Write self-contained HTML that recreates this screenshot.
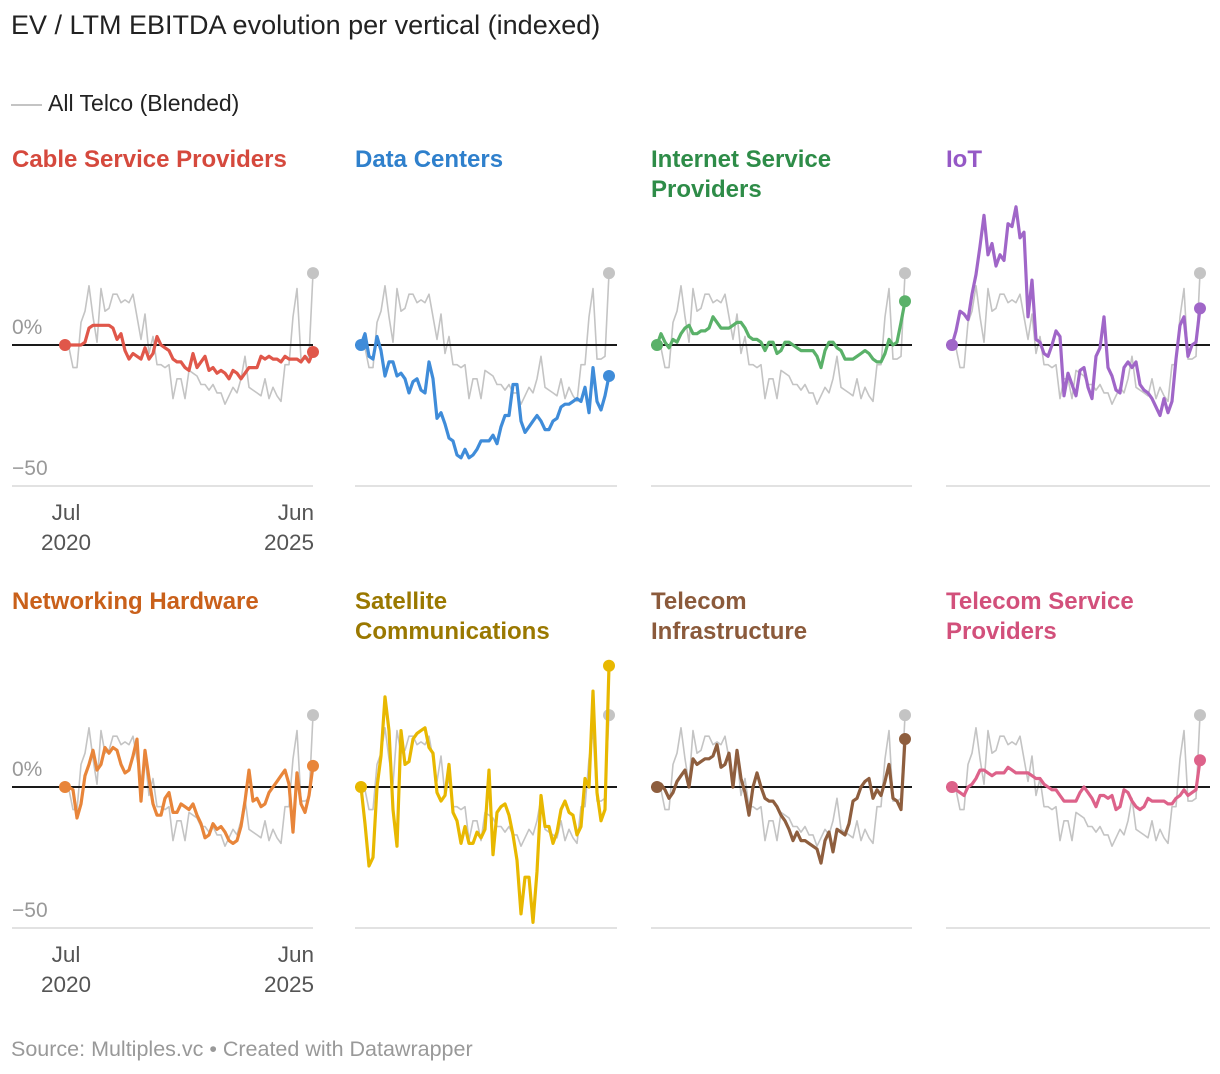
<!DOCTYPE html>
<html><head><meta charset="utf-8">
<style>
html,body{margin:0;padding:0;background:#fff;}
body{width:1220px;height:1074px;position:relative;overflow:hidden;font-family:"Liberation Sans",sans-serif;}
.t{position:absolute;white-space:nowrap;}
</style></head>
<body>
<div class="t" style="left:11px;top:10px;font-size:27px;color:#222;">EV / LTM EBITDA evolution per vertical (indexed)</div>
<div class="t" style="left:11px;top:90px;font-size:23px;color:#222;"><span style="display:inline-block;width:31px;height:2px;background:#c4c4c4;vertical-align:middle;margin-right:6px;"></span>All Telco (Blended)</div>
<svg id="chart" width="1220" height="1074" style="position:absolute;left:0;top:0;" xmlns="http://www.w3.org/2000/svg"></svg>
<div class="t" style="left:11px;top:1037px;font-size:21.5px;color:#999;">Source: Multiples.vc • Created with Datawrapper</div>
<script>
const allTelco=[0,-1,-8,-8,8,12,21,10,1,20,12,13,18,18,15,16,15,18,10,2,11,-3,3,-7,-7,-8,-7,-19,-12,-12,-19,-9,-10,-11,-14,-14,-16,-14,-17,-17,-21,-18,-15,-17,-12,-4,-15,-16,-17,-18,-12,-19,-15,-18,-20,-7,-7,10,20,-5,-5,-4,25.5];
const cable=[0,0,0,0,0,1,6,7,7,7,7,7,6,2,4,-2,-5,-3,-4,-5,-1,-5,-3,3,0,-1,-2,-5,-6,-6,-8,-9,-3,-8,-6,-4,-9,-8,-10,-9,-10,-12,-9,-10,-12,-10,-8,-8,-8,-4,-5,-4,-5,-5,-6,-4,-5,-5,-5,-6,-4,-6,-2.5];
const dataCenters=[0,4,-4,-5,3,-2,-11,-6,-6,-11,-10,-12,-17,-13,-12,-16,-17,-6,-12,-26,-24,-28,-33,-34,-39,-40,-37,-40,-39,-37,-34,-34,-34,-32,-35,-29,-25,-25,-14,-14,-27,-31,-29,-27,-25,-27,-30,-30,-27,-26,-22,-21,-21,-20,-19,-20,-15,-24,-8,-20,-23,-18,-11];
const internetSP=[0,4,1,-1,2,1,4,6,7,4,4,5,5,6,10,8,6,6,6,7,8,8,6,3,2,2,1,-2,1,1,-3,-2,1,1,0,-1,-2,-2,-2,-2,-4,-8,-2,1,1,-1,-2,-5,-5,-5,-4,-3,-2,-3,-5,-6,-6,-3,2,0,1,8,15.5];
const iot=[0,5,12,11,9,18,25,35,46,32,36,28,32,30,43,42,49,38,40,10,23,2,1,-3,-4,0,5,3,-18,-10,-14,-18,-9,-8,-15,-19,-4,-1,10,-8,-11,-16,-17,-8,-6,-8,-6,-14,-16,-17,-19,-22,-25,-19,-24,-20,-5,7,10,-4,0,1,13];
const networking=[0,0,-1,-11,-6,4,8,13,6,8,14,12,14,13,8,5,6,11,17,-5,13,3,-6,-10,-10,-4,-2,-9,-9,-6,-7,-8,-6,-10,-13,-18,-17,-13,-15,-14,-16,-19,-20,-19,-14,-5,6,-5,-4,-7,-6,-2,0,2,4,6,1,-16,5,-6,-9,-3,7.5];
const satellite=[0,-13,-28,-25,0,11,32,20,-8,-21,20,8,9,17,19,20,21,14,12,-2,-5,-3,8,-9,-12,-20,-14,-20,-20,-16,-18,-15,6,-24,-9,-7,-6,-10,-17,-26,-45,-32,-32,-48,-30,-3,-14,-14,-20,-16,-8,-5,-9,-10,-17,-14,3,0,34,-2,-12,-8,43];
const telecomInfra=[0,1,-1,-4,-2,2,4,6,0,10,8,9,10,10,11,15,7,8,12,0,13,3,-2,-10,0,5,0,-4,-5,-5,-7,-10,-12,-15,-19,-16,-19,-19,-20,-21,-22,-27,-19,-16,-23,-15,-16,-17,-13,-5,-4,0,2,3,-4,-1,-3,2,8,-4,-5,-8,17];
const telecomSP=[0,-1,-2,-3,0,1,3,6,6,5,4,5,5,5,7,6,5,5,5,5,4,3,3,1,0,-1,-1,-3,-5,-5,-5,-5,-2,0,-2,-4,-7,-3,-3,-4,-3,-8,-7,-1,-2,-5,-7,-8,-7,-4,-5,-5,-5,-5,-6,-6,-4,-3,-1,-3,-2,-1,9.5];
const panelNames=["Cable Service Providers","Data Centers","Internet Service Providers","IoT","Networking Hardware","Satellite Communications","Telecom Infrastructure","Telecom Service Providers"];
const panelSeries=[cable,dataCenters,internetSP,iot,networking,satellite,telecomInfra,telecomSP];
const tickLabels=["0%","−50"];
const xTickLabels=[["Jul","2020"],["Jun","2025"]];

const svg=document.getElementById('chart');
const NS="http://www.w3.org/2000/svg";
const titleLines=[["Cable Service Providers"],["Data Centers"],["Internet Service","Providers"],["IoT"],["Networking Hardware"],["Satellite","Communications"],["Telecom","Infrastructure"],["Telecom Service","Providers"]];
const titleColors=["#d5493d","#2f80cc","#2e8c48","#9558c6","#c9601a","#9a7800","#8b5a3b","#d2507b"];
const lineColors=["#e0574a","#3f8cd9","#5ab169","#a066c8","#e8853a","#e8b800","#8e5e3e","#dd628a"];
const colLeft=[12,355,651,946];
const colRight=[313,617,912,1210];
const plotX0=[65,361,657,952];
const plotW=248;
const rowZero=[345,787];
const rowTitle=[167,609];
const PX=2.82;
function xScale(col,i,n){return plotX0[col]+i*plotW/(n-1);}
function yScale(row,v){return rowZero[row]-v*PX;}
function mk(tag,attrs){const e=document.createElementNS(NS,tag);for(const k in attrs)e.setAttribute(k,attrs[k]);svg.appendChild(e);return e;}
function pathD(col,row,arr){return arr.map((v,i)=>(i?'L':'M')+xScale(col,i,arr.length).toFixed(1)+','+yScale(row,v).toFixed(1)).join('');}

panelSeries.forEach((arr,p)=>{
  const col=p%4,row=Math.floor(p/4);
  titleLines[p].forEach((ln,k)=>{
    const t=mk('text',{x:colLeft[col],y:rowTitle[row]+k*30,'font-size':'24','font-weight':'bold',fill:titleColors[p],'font-family':'Liberation Sans, sans-serif'});
    t.textContent=ln;
    
    
  });
  const b=mk('line',{x1:colLeft[col],x2:colRight[col],y1:yScale(row,-50),y2:yScale(row,-50),stroke:'#e2e2e2','stroke-width':2});
  
  
  if(col===0){
    [0,-50].forEach((v,k)=>{
      const t=mk('text',{x:12,y:yScale(row,v)-11,'font-size':'21',fill:'#999','font-family':'Liberation Sans, sans-serif'});
      t.textContent=tickLabels[k];
      
      
    });
    const ty=yScale(row,-50);
    [[66,'middle'],[314,'end']].forEach((pos,k)=>{
      xTickLabels[k].forEach((s,j)=>{
        const t=mk('text',{x:pos[0],y:ty+34+j*30,'font-size':'22.5',fill:'#555','text-anchor':pos[1],'font-family':'Liberation Sans, sans-serif'});
        t.textContent=s;
        
        
      });
    });
  }
  const g=mk('path',{d:pathD(col,row,allTelco),fill:'none',stroke:'#c4c4c4','stroke-width':1.6,'stroke-linejoin':'round'});
  
  
  const gn=allTelco.length;
  const gd=mk('circle',{cx:xScale(col,gn-1,gn),cy:yScale(row,allTelco[gn-1]),r:6,fill:'#c4c4c4'});
  
  
  const z=mk('line',{x1:colLeft[col],x2:colRight[col],y1:rowZero[row],y2:rowZero[row],stroke:'#1a1a1a','stroke-width':2});
  
  
  const s=mk('path',{d:pathD(col,row,arr),fill:'none',stroke:lineColors[p],'stroke-width':3.2,'stroke-linejoin':'round','stroke-linecap':'round'});
  
  
  const n=arr.length;
  [0,n-1].forEach(i=>{
    const c=mk('circle',{cx:xScale(col,i,n),cy:yScale(row,arr[i]),r:6,fill:lineColors[p]});
    
    
  });
});
</script>
</body></html>
